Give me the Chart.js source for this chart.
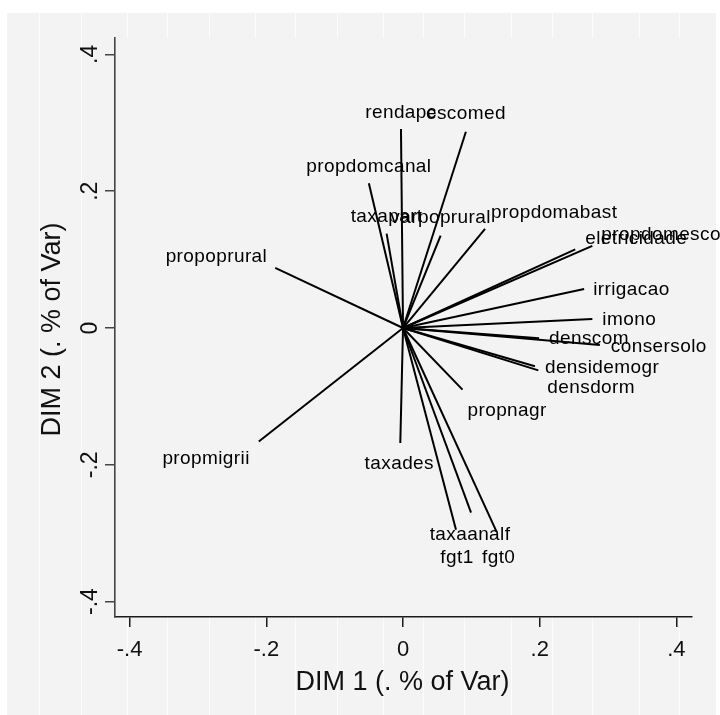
<!DOCTYPE html>
<html>
<head>
<meta charset="utf-8">
<script src="https://cdn.jsdelivr.net/npm/chart.js@4.4.1/dist/chart.umd.min.js"></script>
<style>
  html, body { margin: 0; padding: 0; background: #ffffff; }
  #wrap { width: 720px; height: 715px; }
</style>
</head>
<body>
<div id="wrap"><canvas id="c" width="720" height="715"></canvas></div>
<script>
// Loadings of each variable on the first two dimensions
const variables = ['rendapc', 'escomed', 'propdomcanal', 'taxapart', 'varpoprural',
  'propdomabast', 'eletricidade', 'propdomesco', 'irrigacao', 'imono', 'denscom',
  'consersolo', 'densidemogr', 'densdorm', 'propnagr', 'taxades', 'taxaanalf',
  'fgt1', 'fgt0', 'propoprural', 'propmigrii'];
const dim1 = [-0.003, 0.092, -0.050, -0.024, 0.055,
  0.120, 0.252, 0.277, 0.265, 0.277, 0.199,
  0.288, 0.193, 0.198, 0.087, -0.004, 0.0995,
  0.0775, 0.137, -0.187, -0.211];
const dim2 = [0.291, 0.287, 0.2115, 0.138, 0.135,
  0.145, 0.115, 0.120, 0.057, 0.013, -0.015,
  -0.025, -0.056, -0.062, -0.090, -0.168, -0.270,
  -0.295, -0.298, 0.088, -0.166];

const xTicks = [-0.4, -0.2, 0, 0.2, 0.4];
const xTickLabels = ['-.4', '-.2', '0', '.2', '.4'];
const yTicks = [-0.4, -0.2, 0, 0.2, 0.4];
const yTickLabels = ['-.4', '-.2', '0', '.2', '.4'];
const xTitle = 'DIM 1 (. % of Var)';
const yTitle = 'DIM 2 (. % of Var)';

// Where each variable name sits relative to the end of its arrow: [align, dx, dy]
const labelPlacement = [
  ['center', 0, -16], ['center', 0, -18], ['center', 0, -17], ['center', 0, -17], ['center', 0, -18],
  ['left', 6, -16], ['left', 10, -11], ['left', 9, -11], ['left', 9, 1], ['left', 10, 1], ['left', 10, 0],
  ['left', 11, 2], ['left', 10, 1], ['left', 9, 17], ['left', 5, 21], ['center', -1, 21], ['center', -1, 22],
  ['center', 1, 28], ['center', 2, 26], ['right', -8, -11], ['right', -9, 17]
];

const FONT = '"Liberation Sans", Arial, Helvetica, sans-serif';
const BG = '#f3f3f3';

const datasets = variables.map((name, i) => ({
  label: name,
  data: [{ x: 0, y: 0 }, { x: dim1[i], y: dim2[i] }],
  showLine: true,
  borderColor: '#000000',
  borderWidth: 2,
  pointRadius: 0,
  pointHoverRadius: 0,
  clip: false
}));

// Page background, the framed grey region and its faint vertical streaks
const backdrop = {
  id: 'backdrop',
  beforeDraw(chart) {
    const { ctx, chartArea: a } = chart;
    ctx.save();
    ctx.fillStyle = '#ffffff';
    ctx.fillRect(0, 0, chart.width, chart.height);
    ctx.fillStyle = BG;
    ctx.fillRect(7, 13, 709, 702);
    ctx.strokeStyle = '#fcfcfc';
    ctx.lineWidth = 1;
    [39, 81, 127, 167, 209, 255, 295, 337, 383, 423, 464, 511, 552, 592, 639, 679].forEach(x => {
      ctx.beginPath();
      ctx.moveTo(x + 0.5, 13);
      ctx.lineTo(x + 0.5, 715);
      ctx.stroke();
    });
    ctx.fillStyle = BG;
    ctx.fillRect(a.left, a.top, a.right - a.left, a.bottom - a.top);
    ctx.restore();
  }
};

// Tick labels and axis titles (y ones rotated, reading upward)
const axisText = {
  id: 'axisText',
  afterDraw(chart) {
    const { ctx, scales: { x, y } } = chart;
    ctx.save();
    ctx.fillStyle = '#111111';
    ctx.font = '22px ' + FONT;
    ctx.textAlign = 'center';
    ctx.textBaseline = 'alphabetic';
    xTicks.forEach((v, i) => {
      ctx.fillText(xTickLabels[i], x.getPixelForValue(v), 656);
    });
    ctx.font = '23px ' + FONT;
    yTicks.forEach((v, i) => {
      ctx.save();
      ctx.translate(97, y.getPixelForValue(v));
      ctx.rotate(-Math.PI / 2);
      ctx.fillText(yTickLabels[i], 0, 0);
      ctx.restore();
    });
    ctx.font = '27px ' + FONT;
    ctx.fillText(xTitle, (x.left + x.right) / 2 - 1, 690);
    ctx.save();
    ctx.translate(60, (y.top + y.bottom) / 2 + 2);
    ctx.rotate(-Math.PI / 2);
    ctx.fillText(yTitle, 0, 0);
    ctx.restore();
    ctx.restore();
  }
};

// Variable names at the arrow tips
const varLabels = {
  id: 'varLabels',
  afterDatasetsDraw(chart) {
    const { ctx, scales: { x, y } } = chart;
    ctx.save();
    ctx.fillStyle = '#000000';
    ctx.font = '19px ' + FONT;
    if ('letterSpacing' in ctx) ctx.letterSpacing = '0.4px';
    ctx.textBaseline = 'middle';
    variables.forEach((name, i) => {
      const [align, dx, dy] = labelPlacement[i];
      ctx.textAlign = align;
      ctx.fillText(name, x.getPixelForValue(dim1[i]) + dx, y.getPixelForValue(dim2[i]) + dy);
    });
    ctx.restore();
  }
};

const axisCommon = (borderColor) => ({
  type: 'linear',
  grid: {
    drawOnChartArea: false,
    drawTicks: true,
    tickLength: 10,
    color: borderColor,
    lineWidth: 1.5
  },
  border: { display: true, color: borderColor, width: 1.6 },
  ticks: { display: false }
});

new Chart(document.getElementById('c'), {
  type: 'scatter',
  data: { datasets },
  plugins: [backdrop, varLabels, axisText],
  options: {
    responsive: false,
    animation: false,
    devicePixelRatio: 1,
    layout: { padding: { top: 38, right: 28, left: 0, bottom: 0 } },
    plugins: { legend: { display: false }, tooltip: { enabled: false } },
    events: [],
    scales: {
      x: Object.assign(axisCommon('#1a1a1a'), {
        position: 'bottom',
        min: -0.4214, max: 0.4228,
        afterBuildTicks: s => { s.ticks = xTicks.map(v => ({ value: v })); },
        afterFit: s => { s.height = 98; }
      }),
      y: Object.assign(axisCommon('#444444'), {
        position: 'left',
        min: -0.4225, max: 0.424,
        afterBuildTicks: s => { s.ticks = yTicks.map(v => ({ value: v })); },
        afterFit: s => { s.width = 115; }
      })
    }
  }
});
</script>
</body>
</html>
